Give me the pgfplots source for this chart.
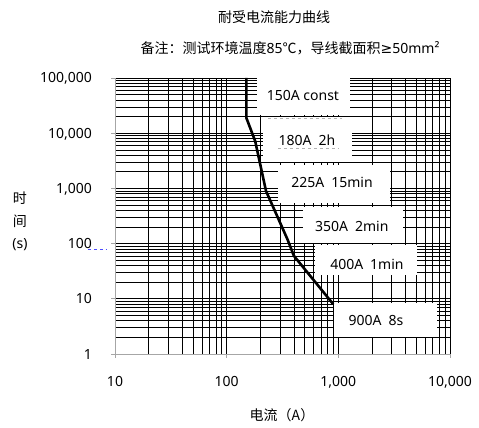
\documentclass[border=0pt]{standalone}
\usepackage{fontspec}
\setmainfont{Noto Sans}
\newfontfamily\cjk{Noto Sans CJK SC}
\newfontfamily\dejavu{DejaVu Sans}
\usepackage{pgfplots}
\pgfplotsset{compat=1.18}
\begin{document}
\fontsize{14bp}{17bp}\selectfont
\begin{tikzpicture}
\begin{axis}[
 at={(0,0)}, anchor=south west,
 width=335bp, height=276bp, scale only axis,
 xmode=log, ymode=log,
 xmin=10, xmax=10000, ymin=1, ymax=100000,
 axis x line*=bottom, axis y line*=left,
 axis line style={gray!70, line width=0.8bp},
 grid=both,
 major grid style={black, line width=0.8bp},
 minor grid style={black, line width=0.6bp},
 xtick={10,100,1000,10000},
 xticklabels={10,100,{1,000},{10,000}},
 ytick={1,10,100,1000,10000,100000},
 yticklabels={1,10,100,{1,000},{10,000},{100,000}},
 tick align=outside, major tick length=4bp, minor tick length=0pt,
 tick style={gray!70, line width=0.8bp},
 xticklabel style={anchor=center, inner sep=0pt, text height=10bp, text depth=0pt, yshift=-24bp},
 yticklabel style={anchor=east, inner sep=0pt, text height=10bp, text depth=0pt, xshift=-19bp},
 clip=false,
]
\fill[white] (rel axis cs:0.424,0.866) rectangle (rel axis cs:0.701,1.0);
\fill[white] (rel axis cs:0.442,0.696) rectangle (rel axis cs:0.707,0.859);
\fill[white] (rel axis cs:0.487,0.547) rectangle (rel axis cs:0.821,0.685);
\fill[white] (rel axis cs:0.561,0.402) rectangle (rel axis cs:0.860,0.533);
\fill[white] (rel axis cs:0.597,0.286) rectangle (rel axis cs:0.901,0.395);
\fill[white] (rel axis cs:0.654,0.062) rectangle (rel axis cs:0.961,0.185);
\addplot[black, line width=2.6bp, line join=round] coordinates {
 (150,100000) (150,19000) (180,7200) (225,900) (350,120) (400,60) (900,8)
};
\node at (rel axis cs:0.561,0.935) {150A const};
\node at (rel axis cs:0.573,0.775) {180A\hspace{0.5em}2h};
\node at (rel axis cs:0.648,0.620) {225A\hspace{0.5em}15min};
\node at (rel axis cs:0.707,0.464) {350A\hspace{0.5em}2min};
\node at (rel axis cs:0.752,0.326) {400A\hspace{0.5em}1min};
\node at (rel axis cs:0.779,0.123) {900A\hspace{0.5em}8s};
\draw[gray!60, dashed, line width=0.6bp] (rel axis cs:0.457,0.855) -- (rel axis cs:0.678,0.855);
\draw[gray!60, dashed, line width=0.6bp] (rel axis cs:0.487,0.746) -- (rel axis cs:0.666,0.746);
\end{axis}
\draw[blue!70, dashed, line width=0.6bp] (-27bp,105bp) -- (-8bp,105bp);
\node[font=\cjk] at (159bp,337bp) {耐受电流能力曲线};
\node at (175bp,306bp) {{\cjk 备注：测试环境温度}85{\cjk ℃，导线截面积}{\dejavu ≥}50mm²};
\node[font=\cjk] at (167bp,-61bp) {电流（A）};
\node[align=center] at (-95bp,133bp) {{\cjk 时}\\[6bp]{\cjk 间}\\[5bp](s)};
\path[use as bounding box] (-115bp,-74bp) rectangle (364bp,354bp);
\end{tikzpicture}
\end{document}
